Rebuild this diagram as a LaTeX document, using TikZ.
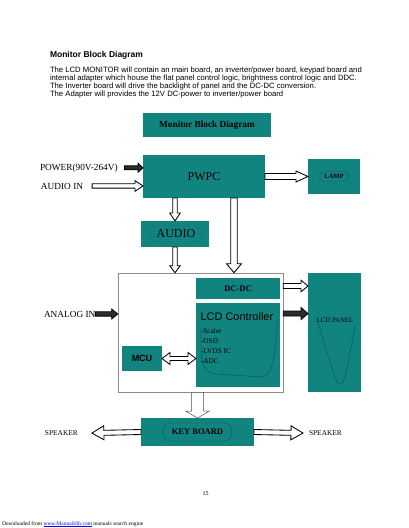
\documentclass[tikz,border=0pt]{standalone}
\usepackage{fontspec}
\setmainfont{Liberation Serif}
\setsansfont{Liberation Sans}
\definecolor{tealbox}{RGB}{18,132,128}
\definecolor{tealline}{RGB}{8,92,88}
\definecolor{darkfill}{RGB}{45,45,45}
\tikzset{
  box/.style={fill=tealbox, inner sep=0pt, outer sep=0pt},
  lbl/.style={inner sep=0pt, outer sep=0pt},
  hollowarrow/.style={draw=black, fill=white, line width=0.85pt, line join=miter},
  darkarrow/.style={draw=black, fill=darkfill, line width=0.85pt, line join=miter},
  bigarrow/.style={draw=black!70, fill=white, line width=0.5pt, line join=miter},
  faintline/.style={draw=tealline, line width=0.5pt},
  fz/.style={font=\fontsize{#1}{#1}\selectfont}
}
% block arrow: [style]{from}{to}{shaft half}{head half}{head length}
\newcommand\barrow[6][hollowarrow]{%
  \path (#2); \pgfgetlastxy{\bax}{\bay}%
  \path (#3); \pgfgetlastxy{\bbx}{\bby}%
  \pgfmathsetmacro\bang{atan2(\bby-\bay,\bbx-\bax)}%
  \pgfmathsetmacro\blen{veclen(\bbx-\bax,\bby-\bay)}%
  \begin{scope}[shift={(\bax,\bay)},rotate=\bang]
    \draw[#1] (0,-#4) -- (\blen-#6,-#4) -- (\blen-#6,-#5) -- (\blen,0)
      -- (\blen-#6,#5) -- (\blen-#6,#4) -- (0,#4) -- cycle;
  \end{scope}}
% double-headed block arrow
\newcommand\dbarrow[6][hollowarrow]{%
  \path (#2); \pgfgetlastxy{\bax}{\bay}%
  \path (#3); \pgfgetlastxy{\bbx}{\bby}%
  \pgfmathsetmacro\bang{atan2(\bby-\bay,\bbx-\bax)}%
  \pgfmathsetmacro\blen{veclen(\bbx-\bax,\bby-\bay)}%
  \begin{scope}[shift={(\bax,\bay)},rotate=\bang]
    \draw[#1] (0,0) -- (#6,-#5) -- (#6,-#4) -- (\blen-#6,-#4) -- (\blen-#6,-#5) -- (\blen,0)
      -- (\blen-#6,#5) -- (\blen-#6,#4) -- (#6,#4) -- (#6,#5) -- cycle;
  \end{scope}}
\begin{document}
\begin{tikzpicture}[x=1pt,y=1pt]
\useasboundingbox[fill=white] (0,0) rectangle (408,-528);

% ---------- header text ----------
\node[lbl, anchor=base west, font=\sffamily\bfseries\fontsize{8.5}{8.5}\selectfont] (hdr) at (50,-57) {Monitor Block Diagram};
\node[lbl, anchor=base west, font=\sffamily\fontsize{7.7}{7.7}\selectfont] (p1) at (50,-72) {The LCD MONITOR will contain an main board, an inverter/power board, keypad board and};
\node[lbl, anchor=base west, font=\sffamily\fontsize{7.7}{7.7}\selectfont] (p2) at (50,-80.3) {internal adapter which house the flat panel control logic, brightness control logic and DDC.};
\node[lbl, anchor=base west, font=\sffamily\fontsize{7.7}{7.7}\selectfont] (p3) at (50,-88.6) {The Inverter board will drive the backlight of panel and the DC-DC conversion.};
\node[lbl, anchor=base west, font=\sffamily\fontsize{7.7}{7.7}\selectfont] (p4) at (50,-96.9) {The Adapter will provides the 12V DC-power to inverter/power board};

% ---------- title box ----------
\node[box, minimum width=128pt, minimum height=24pt, font=\bfseries\fontsize{9.3}{9.3}\selectfont] (title) at (207,-125) {Monitor Block Diagram};

% ---------- boxes ----------
\node[box, minimum width=122pt, minimum height=43pt] (pwpc) at (204,-176.5) {};
\node[lbl, fz=12, draw=tealline!20!tealbox, rounded corners=6pt, minimum width=50pt, minimum height=18pt] (pwpct) at (pwpc) {PWPC};
\node[box, minimum width=52pt, minimum height=35pt] (lamp) at (334,-176.5) {};
\node[lbl, font=\bfseries\fontsize{6.5}{6.5}\selectfont, draw=tealline, rounded corners=4pt, minimum width=29pt, minimum height=10pt] (lampt) at (lamp) {LAMP};
\node[box, minimum width=68pt, minimum height=26pt] (audio) at (175,-234) {};
\node[lbl, fz=12, draw=tealline!20!tealbox, rounded corners=5pt, minimum width=50pt, minimum height=16pt] (audiot) at (176,-234) {AUDIO};

\node[draw=black!45, fill=white, line width=0.6pt, inner sep=0pt, minimum width=165pt, minimum height=119pt] (mainbox) at (200.5,-332.5) {};
\node[box, minimum width=84pt, minimum height=21pt, font=\bfseries\fontsize{8.5}{8.5}\selectfont] (dcdc) at (238,-288.5) {DC-DC};
\node[box, minimum width=84pt, minimum height=84pt] (lcdc) at (238,-345) {};
\draw[faintline] (201,-326) .. controls (201,-360) and (200,-372) .. (216,-374)
  -- (262,-377) .. controls (276,-376) and (275,-340) .. (278,-322);
\node[lbl, anchor=base west, font=\sffamily\fontsize{11}{11}\selectfont] (lcdct) at (200.5,-320.5) {LCD Controller};
\node[lbl, anchor=base west, fz=7.3] (li1) at (201,-333.5) {-Scaler};
\node[lbl, anchor=base west, fz=7.3] (li2) at (201,-343.5) {-OSD};
\node[lbl, anchor=base west, fz=7.3] (li3) at (201,-353.5) {-LVDS IC};
\node[lbl, anchor=base west, fz=7.3] (li4) at (201,-363.5) {-ADC};
\node[box, minimum width=40pt, minimum height=25pt, font=\sffamily\bfseries\fontsize{9}{9}\selectfont] (mcu) at (142,-358.5) {MCU};
\node[box, minimum width=53pt, minimum height=119pt] (panel) at (334.5,-332.5) {};
\draw[faintline] (318,-322) .. controls (326,-350) and (333,-372) .. (337,-383) -- (343,-383)
  .. controls (348,-365) and (352,-345) .. (355,-325);
\node[lbl, fz=6.8] (panelt) at (335,-320) {LCD PANEL};
\node[box, minimum width=113pt, minimum height=28pt] (kb) at (197.5,-432) {};
\node[lbl, font=\bfseries\fontsize{8.5}{8.5}\selectfont, draw=tealline, rounded corners=7pt, minimum width=68pt, minimum height=18pt] (kbt) at (kb) {KEY BOARD};

% ---------- outside labels ----------
\node[lbl, anchor=base west, fz=9.3] (power) at (40,-170) {POWER(90V-264V)};
\node[lbl, anchor=base west, fz=9.3] (audioin) at (41,-189) {AUDIO IN};
\node[lbl, anchor=base west, fz=9.3] (analog) at (44,-317) {ANALOG IN};
\node[lbl, anchor=base west, fz=7.4] (spkl) at (45,-435.5) {SPEAKER};
\node[lbl, anchor=base west, fz=7.4] (spkr) at (309,-435.5) {SPEAKER};

% ---------- arrows ----------
\barrow[darkarrow]{[xshift=7pt]power.east}{pwpc.west |- power}{2}{4.5}{5}
\barrow{[xshift=9pt]audioin.east}{pwpc.west |- audioin}{2.2}{5.3}{8}
\barrow{pwpc.east |- lamp}{lamp.west}{3}{5.5}{12}
\barrow{pwpc.south -| audio}{audio.north}{2.3}{5.3}{8}
\barrow{[xshift=-4pt]pwpc.south -| dcdc}{[xshift=-4pt]mainbox.north -| dcdc}{3.2}{7.5}{9}
\barrow{audio.south}{mainbox.north -| audio}{2.2}{5.3}{7}
\barrow[darkarrow]{analog.east}{mainbox.west |- analog}{2.2}{5}{6}
\barrow{[yshift=2.5pt]mainbox.east |- dcdc}{[yshift=2.5pt]panel.west |- dcdc}{2.5}{5.8}{7}
\barrow[darkarrow]{[yshift=3pt]mainbox.east |- lcdct}{[yshift=3pt]panel.west |- lcdct}{2.5}{6}{7}
\dbarrow{mcu.east}{lcdc.west |- mcu}{2}{6}{8}
\barrow[bigarrow]{mainbox.south -| kb}{kb.north}{6}{12}{7}
\barrow{kb.west}{[xshift=14pt]spkl.east}{2.5}{7}{12}
\barrow{kb.east}{[xshift=-6pt]spkr.west}{2.5}{7}{12}

% ---------- footer ----------
\node[lbl, fz=6] (pagenum) at (205.5,-494) {15};
\node[lbl, anchor=base west, fz=5.5] (footer) at (2,-525) {Downloaded from \textcolor{blue}{\underline{www.Manualslib.com}} manuals search engine};
\end{tikzpicture}
\end{document}
